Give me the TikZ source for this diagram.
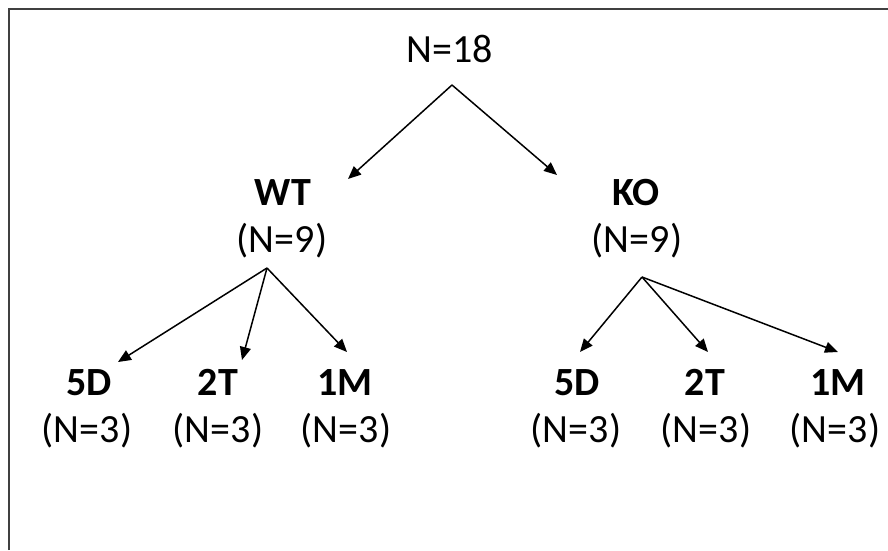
\documentclass[tikz,border=0pt]{standalone}
\usepackage{fontspec}
\setmainfont{Carlito}
\usetikzlibrary{arrows.meta}
\begin{document}
\begin{tikzpicture}[x=1pt,y=-1pt,
  lbl/.style={anchor=base,inner sep=0pt,font=\fontsize{40}{48}\selectfont},
  blbl/.style={lbl,font=\fontsize{40}{48}\selectfont\bfseries},
  arr/.style={line width=1.5pt,-{Triangle[length=13pt,width=11pt]}}]
\useasboundingbox (0,0) rectangle (888,550);
\draw[line width=2.2pt,black!75] (9,550) -- (9,9) -- (888,9);
% labels
\node[lbl] (root) at (450,62) {N=18};
\node[blbl] (wt) at (283,205) {WT};
\node[lbl] (wtn) at (282,252) {(N=9)};
\node[blbl] (ko) at (636,205) {KO};
\node[lbl] (kon) at (637,252) {(N=9)};
\node[blbl] (a5) at (89,395) {5D};
\node[lbl] (a5n) at (87,442) {(N=3)};
\node[blbl] (a2) at (218,395) {2T};
\node[lbl] (a2n) at (218,442) {(N=3)};
\node[blbl] (a1) at (345,395) {1M};
\node[lbl] (a1n) at (346,442) {(N=3)};
\node[blbl] (b5) at (577,395) {5D};
\node[lbl] (b5n) at (576,442) {(N=3)};
\node[blbl] (b2) at (705,395) {2T};
\node[lbl] (b2n) at (706,442) {(N=3)};
\node[blbl] (b1) at (838,395) {1M};
\node[lbl] (b1n) at (835,442) {(N=3)};
% connector points
\coordinate (rs) at (452,85);
\coordinate (rl) at (348,179);
\coordinate (rr) at (557,175);
\coordinate (ws) at (267,268);
\coordinate (w5) at (118,362);
\coordinate (w2) at (242,360);
\coordinate (w1) at (347,352);
\coordinate (ks) at (642,277);
\coordinate (k5) at (580,352);
\coordinate (k2) at (708,352);
\coordinate (k1) at (838,352);
\draw[arr] (rs) -- (rl);
\draw[arr] (rs) -- (rr);
\draw[arr] (ws) -- (w5);
\draw[arr] (ws) -- (w2);
\draw[arr] (ws) -- (w1);
\draw[arr] (ks) -- (k5);
\draw[arr] (ks) -- (k2);
\draw[arr] (ks) -- (k1);
\end{tikzpicture}
\end{document}
